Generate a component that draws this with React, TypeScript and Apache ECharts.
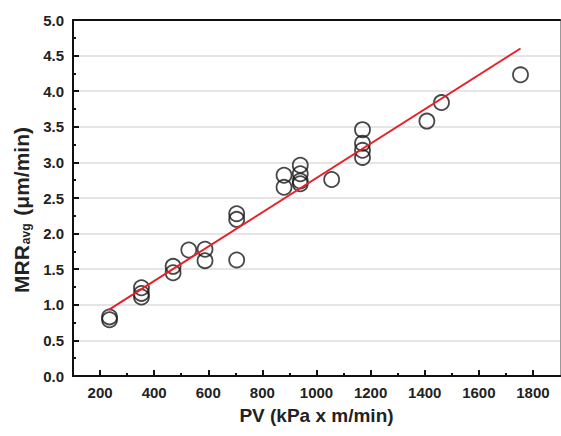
import React, { useEffect, useRef } from "react";
import * as echarts from "echarts";

const pvValues = [235, 235, 353, 353, 353, 470, 470, 528, 588, 588, 705, 705, 705, 880, 880, 940, 940, 940, 940, 1056, 1170, 1170, 1170, 1170, 1408, 1462, 1754];
const mrrValues = [0.83, 0.79, 1.24, 1.16, 1.11, 1.54, 1.45, 1.77, 1.78, 1.62, 2.28, 2.2, 1.63, 2.82, 2.65, 2.96, 2.84, 2.74, 2.7, 2.76, 3.46, 3.27, 3.17, 3.07, 3.58, 3.84, 4.23];
const fitX = [232, 1754];
const fitY = [0.93, 4.6];
const xMajorTicks = [200, 400, 600, 800, 1000, 1200, 1400, 1600, 1800];
const xMinorTicks = [300, 500, 700, 900, 1100, 1300, 1500, 1700];

const FONT = "Liberation Sans, Arial, sans-serif";

export default function App() {
  const ref = useRef<HTMLDivElement>(null);
  useEffect(() => {
    if (!ref.current) return;
    const chart = echarts.init(ref.current, null, { renderer: "svg" });
    const points = pvValues.map((x, i) => [x, mrrValues[i]]);
    const fit = fitX.map((x, i) => [x, fitY[i]]);
    chart.setOption({
      animation: false,
      backgroundColor: "#ffffff",
      grid: { left: 73, top: 20, right: 1, bottom: 60, containLabel: false, outerBoundsMode: "none" },
      xAxis: [
        {
          type: "value",
          min: 100,
          max: 1900,
          position: "bottom",
          name: "PV (kPa x m/min)",
          nameLocation: "middle",
          nameGap: 30,
          nameTextStyle: { fontFamily: FONT, fontWeight: "bold", fontSize: 19, color: "#222" },
          axisLine: { show: true, onZero: false, lineStyle: { color: "#111", width: 2 } },
          axisTick: { show: true, inside: true, length: 6, customValues: xMajorTicks, lineStyle: { color: "#111", width: 2 } },
          axisLabel: {
            customValues: xMajorTicks,
            fontFamily: FONT,
            fontWeight: "bold",
            fontSize: 15,
            color: "#222",
            margin: 9,
            formatter: (v: number) => String(v),
          },
          splitLine: { show: false },
        },
        {
          type: "value",
          min: 100,
          max: 1900,
          position: "bottom",
          axisLine: { show: true, onZero: false, lineStyle: { color: "#111", width: 2 } },
          axisTick: { show: true, inside: true, length: 3, customValues: xMinorTicks, lineStyle: { color: "#111", width: 2 } },
          axisLabel: { show: false },
          splitLine: { show: false },
        },
        {
          type: "value",
          min: 100,
          max: 1900,
          position: "top",
          axisLine: { show: true, onZero: false, lineStyle: { color: "#111", width: 2 } },
          axisTick: { show: false },
          axisLabel: { show: false },
          splitLine: { show: false },
        },
      ],
      yAxis: [
        {
          type: "value",
          min: 0,
          max: 5,
          interval: 0.5,
          position: "left",
          name: "{a|MRR}{b|avg}{a| (\u03bcm/min)}",
          nameLocation: "middle",
          nameGap: 40,
          nameRotate: 90,
          nameTextStyle: {
            padding: [0, 24, 0, 0],
            rich: {
              a: { fontFamily: FONT, fontWeight: "bold", fontSize: 21, color: "#222", lineHeight: 26, verticalAlign: "bottom" },
              b: { fontFamily: FONT, fontWeight: "bold", fontSize: 12, color: "#222", lineHeight: 14, padding: [17, 2, 0, 1], verticalAlign: "bottom" },
            },
          },
          axisLine: { show: true, onZero: false, lineStyle: { color: "#111", width: 2 } },
          axisTick: { show: true, inside: true, length: 6, lineStyle: { color: "#111", width: 2 } },
          minorTick: { show: true, splitNumber: 2, length: 3, lineStyle: { color: "#111", width: 2 } },
          axisLabel: {
            fontFamily: FONT,
            fontWeight: "bold",
            fontSize: 15,
            color: "#222",
            margin: 9,
            formatter: (v: number) => v.toFixed(1),
          },
          splitLine: { show: true, lineStyle: { color: "#dcdcdc", width: 1.5 } },
        },
        {
          type: "value",
          min: 0,
          max: 5,
          position: "right",
          axisLine: { show: true, onZero: false, lineStyle: { color: "#999", width: 1 } },
          axisTick: { show: false },
          axisLabel: { show: false },
          splitLine: { show: false },
        },
      ],
      series: [
        {
          type: "scatter",
          data: points,
          symbol: "circle",
          symbolSize: 15,
          itemStyle: { color: "rgba(255,255,255,0)", borderColor: "#1a1a1a", borderWidth: 1.8 },
          z: 3,
        },
        {
          type: "line",
          data: fit,
          symbol: "none",
          lineStyle: { color: "#e8202a", width: 2 },
          z: 4,
        },
      ],
    });
    return () => chart.dispose();
  }, []);
  return <div ref={ref} style={{ position: "fixed", left: 0, top: 0, width: 561, height: 436 }} />;
}
